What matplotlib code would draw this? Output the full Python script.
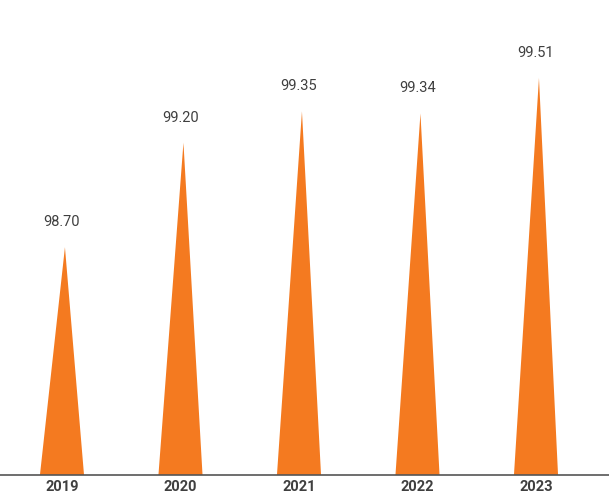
import matplotlib
matplotlib.use("Agg")
import matplotlib.pyplot as plt

# Annual values shown as spike-shaped bars
years = ["2019", "2020", "2021", "2022", "2023"]
values = [98.70, 99.20, 99.35, 99.34, 99.51]
value_labels = ["98.70", "99.20", "99.35", "99.34", "99.51"]

ORANGE = "#F47A20"
TEXT = "#3f3f3f"
BASE = 97.61

plt.rcParams["font.family"] = ["Roboto", "DejaVu Sans"]

fig = plt.figure(figsize=(6.09, 4.97), dpi=100)
ax = fig.add_axes([0, 22 / 497, 1, 475 / 497])

half_w = 0.186   # half of the spike base width, in category units
tip_shift = 0.025

for i, v in enumerate(values):
    xs = [i - half_w, i + tip_shift, i + half_w]
    ys = [BASE, v, BASE]
    ax.fill(xs, ys, color=ORANGE, linewidth=0)
    ax.annotate(value_labels[i], (i, v), xytext=(0, 13), textcoords="offset points",
                ha="center", va="bottom", fontsize=10.5, color=TEXT)

ax.set_xlim(-0.523, 4.616)
ax.set_ylim(BASE, 99.883)

ax.set_xticks(range(len(years)))
ax.set_xticklabels(years, fontsize=10.5, fontweight="bold", color=TEXT)
ax.tick_params(axis="x", length=0, pad=3.5)
ax.set_yticks([])

for side in ("top", "right", "left"):
    ax.spines[side].set_visible(False)
ax.spines["bottom"].set_color("#555555")
ax.spines["bottom"].set_linewidth(1.2)

fig.savefig("out.png", dpi=100)
